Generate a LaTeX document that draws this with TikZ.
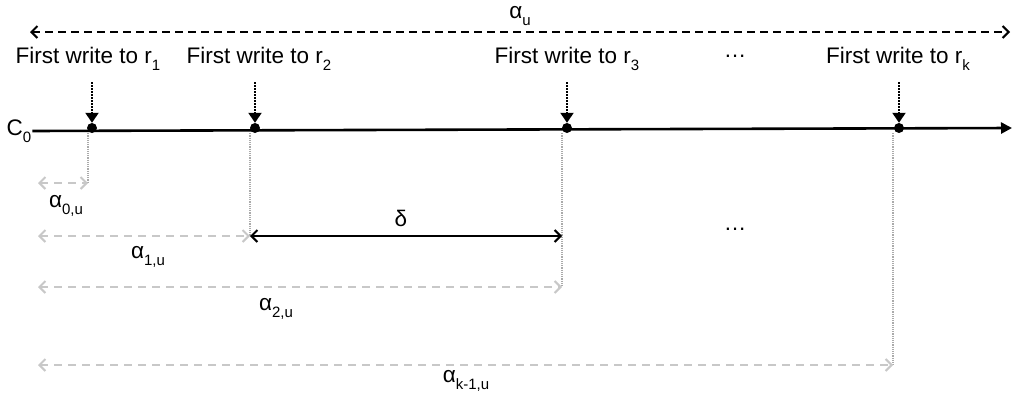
\documentclass[tikz,border=0pt]{standalone}
\usepackage{fontspec}
\setmainfont{Liberation Sans}
\usetikzlibrary{arrows.meta,calc}
\definecolor{measGray}{RGB}{200,200,200}
\definecolor{dropGray}{RGB}{170,170,170}
\newcommand{\lowsub}[1]{\raisebox{-0.3em}{\fontsize{15}{17}\selectfont #1}}

\begin{document}
\begin{tikzpicture}[x=1pt, y=-1pt,
    lbl/.style={font=\fontsize{22.5}{27}\selectfont, inner sep=1pt},
    dot/.style={circle, fill=black, inner sep=0pt, minimum size=10pt},
    axis/.style={-{Triangle[length=11pt,width=11pt]}, line width=2.6pt},
    evt/.style={-{Triangle[length=10pt,width=13pt]}, densely dotted, line width=2pt},
    span/.style={{Straight Barb[length=6pt,width=12pt]}-{Straight Barb[length=6pt,width=12pt]}, line width=2pt},
    meas/.style={span, measGray, dash pattern=on 8pt off 6pt},
    drop/.style={dropGray, densely dotted, line width=1.2pt}
  ]
  \useasboundingbox (0,0) rectangle (1013,394);

  % overall span
  \coordinate (ul) at (30,32);
  \coordinate (ur) at (1010,32);
  \draw[span, dash pattern=on 8pt off 5pt] (ul) -- (ur);
  \node[lbl] (au) at (520,16) {α\lowsub{u}};

  % time line
  \node[lbl] (c0) at (19,131) {C\lowsub{0}};
  \coordinate (tend) at (1012,128);
  \draw[axis] (c0.east) -- (tend);

  % events
  \node[dot] (p1) at ( 92,128) {};
  \node[dot] (p2) at (255,128) {};
  \node[dot] (p3) at (567,128) {};
  \node[dot] (pk) at (899,128) {};

  \node[lbl] (w1) at ( 88,59) {First write to r\lowsub{1}};
  \node[lbl] (w2) at (259,59) {First write to r\lowsub{2}};
  \node[lbl] (w3) at (567,59) {First write to r\lowsub{3}};
  \node[lbl] (wd) at (735,56) {…};
  \node[lbl] (wk) at (898,59) {First write to r\lowsub{k}};

  \draw[evt] ($(p1)+(0,-46)$) -- (p1.north);
  \draw[evt] ($(p2)+(0,-46)$) -- (p2.north);
  \draw[evt] ($(p3)+(0,-46)$) -- (p3.north);
  \draw[evt] ($(pk)+(0,-46)$) -- (pk.north);

  % drop lines
  \coordinate (g1) at ( 88,183);
  \coordinate (g2) at (250,236);
  \coordinate (g3) at (562,287);
  \coordinate (gk) at (893,365);
  \draw[drop] (p1.south) ++(-4,0) -- (g1);
  \draw[drop] (p2.south) ++(-5,0) -- (g2);
  \draw[drop] (p3.south) ++(-5,0) -- (g3);
  \draw[drop] (pk.south) ++(-6,0) -- (gk);

  % offsets from C0
  \coordinate (o1) at (38,183);
  \coordinate (o2) at (38,236);
  \coordinate (o3) at (38,287);
  \coordinate (ok) at (38,365);
  \draw[meas] (o1) -- (g1);
  \draw[meas] (o2) -- (g2);
  \draw[meas] (o3) -- (g3);
  \draw[meas] (ok) -- (gk);
  \node[lbl] (a0) at ( 66,206) {α\lowsub{0,u}};
  \node[lbl] (a1) at (148,257) {α\lowsub{1,u}};
  \node[lbl] (a2) at (276,309) {α\lowsub{2,u}};
  \node[lbl] (ak) at (466,381) {α\lowsub{k-1,u}};
  \node[lbl] (md) at (735,229) {…};

  % delta
  \draw[span] (g2) -- (g2 -| g3);
  \node[lbl] (dl) at (401,218) {δ};
\end{tikzpicture}
\end{document}
